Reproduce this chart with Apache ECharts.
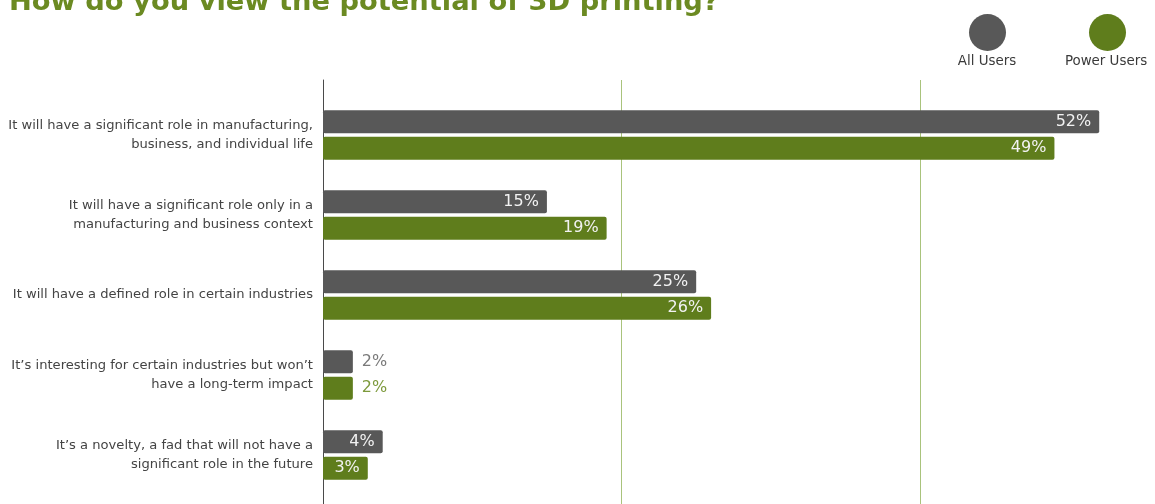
<!DOCTYPE html>
<html>
<head>
<meta charset="utf-8">
<script src="https://cdn.jsdelivr.net/npm/echarts@6/dist/echarts.min.js"></script>
<style>
  html, body { margin: 0; padding: 0; background: #fff; }
  #chart { width: 1155px; height: 504px; }
</style>
</head>
<body>
<div id="chart"></div>
<script>
// Survey answers, top to bottom
const categories = [
  'It will have a significant role in manufacturing,\nbusiness, and individual life',
  'It will have a significant role only in a\nmanufacturing and business context',
  'It will have a defined role in certain industries',
  'It\u2019s interesting for certain industries but won\u2019t\nhave a long-term impact',
  'It\u2019s a novelty, a fad that will not have a\nsignificant role in the future'
];
const seriesNames = ['All Users', 'Power Users'];
const allUsers = [52, 15, 25, 2, 4];
const powerUsers = [49, 19, 26, 2, 3];

const GRAY = '#585858';
const GREEN = '#5f7d1c';
const FONT = "'DejaVu Sans', 'Open Sans', sans-serif";

// Short bars carry their label outside, in a lighter tone of the bar colour
function labelled(values, outsideColor) {
  return values.map(v => ({
    value: v,
    label: v <= 2
      ? { position: 'right', color: outsideColor, distance: 9 }
      : { position: 'insideRight', color: '#f2f2f2', distance: 8 }
  }));
}

const chart = echarts.init(document.getElementById('chart'));
chart.setOption({
  animation: false,
  title: {
    text: 'How do you view the potential of 3D printing?',
    left: 4,
    top: -16,
    textStyle: { color: '#6b8a22', fontSize: 27.3, fontWeight: 'bold', fontFamily: FONT }
  },
  legend: {
    right: 24,
    top: 9,
    itemWidth: 37,
    itemHeight: 37,
    itemGap: 83,
    icon: 'circle',
    formatter: () => '',
    data: seriesNames,
    selectedMode: false
  },
  graphic: [
    { type: 'text', x: 987, y: 55, style: { text: seriesNames[0], fill: '#3a3a3a', font: '13.4px ' + FONT, align: 'center', verticalAlign: 'top' } },
    { type: 'text', x: 1106, y: 55, style: { text: seriesNames[1], fill: '#3a3a3a', font: '13.4px ' + FONT, align: 'center', verticalAlign: 'top' } }
  ],
  grid: [
    { left: 323, width: 821, top: 95, height: 400, containLabel: false },
    { left: 323, width: 821, top: 80, bottom: 0, containLabel: false }
  ],
  xAxis: [
    {
      gridIndex: 0, type: 'value', min: 0, max: 55, interval: 20,
      axisLine: { show: false }, axisTick: { show: false }, axisLabel: { show: false },
      splitLine: { show: false }
    },
    {
      gridIndex: 1, type: 'value', min: 0, max: 55, interval: 20,
      axisLine: { show: false }, axisTick: { show: false }, axisLabel: { show: false },
      splitLine: { show: true, showMinLine: false, showMaxLine: false, lineStyle: { color: '#a9c37c', width: 1 } }
    }
  ],
  yAxis: [
    {
      gridIndex: 0, type: 'category', inverse: true, data: categories,
      axisLine: { show: false }, axisTick: { show: false },
      axisLabel: { color: '#444', fontSize: 13.1, lineHeight: 19, margin: 10, fontFamily: FONT, align: 'right' }
    },
    {
      gridIndex: 1, type: 'value', position: 'left',
      axisLine: { show: true, lineStyle: { color: '#4a4a4a', width: 1 } },
      axisTick: { show: false }, axisLabel: { show: false }, splitLine: { show: false }
    }
  ],
  series: [
    {
      name: seriesNames[0], type: 'bar', xAxisIndex: 0, yAxisIndex: 0,
      data: labelled(allUsers, '#7a7a7a'),
      barWidth: 23, barGap: '15%',
      itemStyle: { color: GRAY, borderRadius: 2 },
      label: { show: true, formatter: '{c}%', fontSize: 16, fontFamily: FONT }
    },
    {
      name: seriesNames[1], type: 'bar', xAxisIndex: 0, yAxisIndex: 0,
      data: labelled(powerUsers, '#7d9a3c'),
      barWidth: 23, barGap: '15%',
      itemStyle: { color: GREEN, borderRadius: 2 },
      label: { show: true, formatter: '{c}%', fontSize: 16, fontFamily: FONT }
    }
  ]
});
</script>
</body>
</html>
